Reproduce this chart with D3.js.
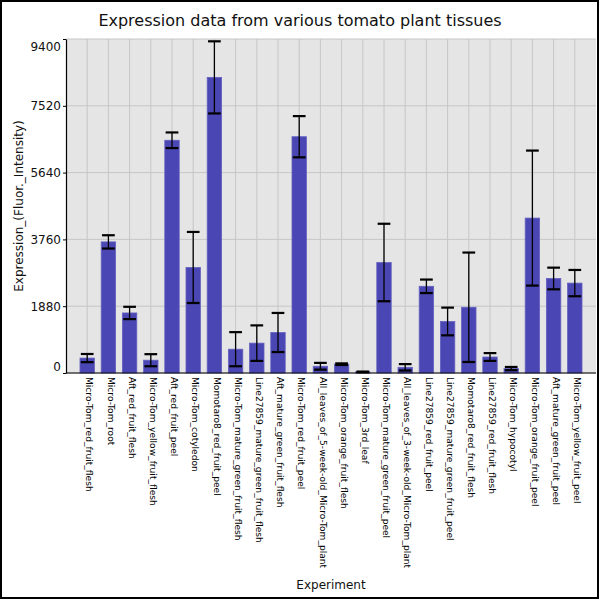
<!DOCTYPE html>
<html>
<head>
<meta charset="utf-8">
<script src="https://cdn.jsdelivr.net/npm/d3@7"></script>
<style>
  body { margin: 0; background: #fff; }
  svg { display: block; font-family: "DejaVu Sans", sans-serif; }
</style>
</head>
<body>
<svg id="chart" width="600" height="600"></svg>
<script>
const categories = [
  'Micro-Tom_red_fruit_flesh', 'Micro-Tom_root', 'Aft_red_fruit_flesh',
  'Micro-Tom_yellow_fruit_flesh', 'Aft_red_fruit_peel', 'Micro-Tom_cotyledon',
  'Momotaro8_red_fruit_peel', 'Micro-Tom_mature_green_fruit_flesh',
  'Line27859_mature_green_fruit_flesh', 'Aft_mature_green_fruit_flesh',
  'Micro-Tom_red_fruit_peel', 'All_leaves_of_5-week-old_Micro-Tom_plant',
  'Micro-Tom_orange_fruit_flesh', 'Micro-Tom_3rd_leaf',
  'Micro-Tom_mature_green_fruit_peel', 'All_leaves_of_3-week-old_Micro-Tom_plant',
  'Line27859_red_fruit_peel', 'Line27859_mature_green_fruit_peel',
  'Momotaro8_red_fruit_flesh', 'Line27859_red_fruit_flesh',
  'Micro-Tom_hypocotyl', 'Micro-Tom_orange_fruit_peel',
  'Aft_mature_green_fruit_peel', 'Micro-Tom_yellow_fruit_peel'
];
const means = [
  420, 3690, 1690, 360, 6550, 2970, 8320, 670, 840, 1140, 6650, 190,
  248, 30, 3110, 160, 2440, 1450, 1850, 450, 125, 4360, 2660, 2530
];
const errors = [
  115, 187, 173, 170, 220, 1000, 1015, 480, 500, 550, 580, 95,
  23, 10, 1090, 90, 190, 390, 1540, 110, 45, 1900, 305, 370
];
const yTicks = [0, 1880, 3760, 5640, 7520, 9400];

const title = 'Expression data from various tomato plant tissues';
const xTitle = 'Experiment';
const yTitle = 'Expression_(Fluor._Intensity)';

function drawChart() {
  const plotLeft = 66;
  const plotRight = 596;
  const plotTop = 39;
  const plotBottom = 373;

  const svg = d3.select('#chart');

  const x = d3.scalePoint()
    .domain(categories)
    .range([plotLeft, plotRight])
    .padding(1);
  const barWidth = x.step() * 0.68;
  const capWidth = x.step() * 0.6;

  const y = d3.scaleLinear()
    .domain([0, 9400])
    .range([plotBottom, plotTop]);

  // plot background
  svg.append('rect')
    .attr('x', plotLeft).attr('y', plotTop)
    .attr('width', plotRight - plotLeft).attr('height', plotBottom - plotTop)
    .attr('fill', '#e5e5e5');

  // grid
  svg.append('g')
    .selectAll('line.h')
    .data(yTicks)
    .join('line')
    .attr('x1', plotLeft).attr('x2', plotRight)
    .attr('y1', d => y(d)).attr('y2', d => y(d))
    .attr('stroke', '#c6c6c6').attr('stroke-width', 1);
  svg.append('g')
    .selectAll('line.v')
    .data(categories)
    .join('line')
    .attr('x1', d => x(d)).attr('x2', d => x(d))
    .attr('y1', plotTop).attr('y2', plotBottom)
    .attr('stroke', '#c6c6c6').attr('stroke-width', 1);

  // bars
  svg.append('g')
    .selectAll('rect')
    .data(means)
    .join('rect')
    .attr('x', (d, i) => x(categories[i]) - barWidth / 2)
    .attr('y', d => y(d))
    .attr('width', barWidth)
    .attr('height', d => plotBottom - y(d))
    .attr('fill', '#4a46b3')
    .attr('stroke', '#6461c0')
    .attr('stroke-width', 0.8);

  // error bars
  const err = svg.append('g')
    .selectAll('g')
    .data(means)
    .join('g')
    .attr('stroke', '#000');
  err.append('line')
    .attr('x1', (d, i) => x(categories[i])).attr('x2', (d, i) => x(categories[i]))
    .attr('y1', (d, i) => y(d + errors[i]))
    .attr('y2', (d, i) => y(Math.max(0, d - errors[i])))
    .attr('stroke-width', 1.3);
  err.selectAll('line.cap')
    .data((d, i) => [d + errors[i], Math.max(0, d - errors[i])].map(v => ({ v, i })))
    .join('line')
    .attr('class', 'cap')
    .attr('x1', d => x(categories[d.i]) - capWidth / 2)
    .attr('x2', d => x(categories[d.i]) + capWidth / 2)
    .attr('y1', d => y(d.v)).attr('y2', d => y(d.v))
    .attr('stroke-width', 2.2);

  // axes
  const yAxis = svg.append('g')
    .attr('transform', `translate(${plotLeft},0)`)
    .call(d3.axisLeft(y).tickValues(yTicks).tickFormat(d3.format('d'))
      .tickSize(3).tickPadding(2).tickSizeOuter(0));
  yAxis.select('.domain').attr('stroke', '#000').attr('stroke-width', 1.2);
  yAxis.selectAll('text')
    .attr('font-size', 12)
    .attr('font-family', 'DejaVu Sans')
    .attr('fill', '#111')
    .attr('dy', d => d === 0 ? '-0.25em' : d === 9400 ? '0.95em' : '0.32em');

  const xAxis = svg.append('g')
    .attr('transform', `translate(0,${plotBottom})`)
    .call(d3.axisBottom(x).tickSize(0).tickSizeOuter(0));
  xAxis.select('.domain')
    .attr('d', `M${plotLeft},0H${plotRight}`)
    .attr('stroke', '#000').attr('stroke-width', 1.2);
  xAxis.selectAll('text')
    .attr('font-size', 9.1)
    .attr('font-family', 'DejaVu Sans')
    .attr('fill', '#000')
    .attr('text-anchor', 'start')
    .attr('transform', 'rotate(90)')
    .attr('x', 4)
    .attr('y', 0)
    .attr('dy', '0.15em');

  // titles
  svg.append('text')
    .attr('x', 300).attr('y', 26)
    .attr('text-anchor', 'middle')
    .attr('font-size', 16)
    .attr('fill', '#111')
    .text(title);
  svg.append('text')
    .attr('x', (plotLeft + plotRight) / 2).attr('y', 589)
    .attr('text-anchor', 'middle')
    .attr('font-size', 12)
    .attr('fill', '#111')
    .text(xTitle);
  svg.append('text')
    .attr('transform', `translate(23,${(plotTop + plotBottom) / 2}) rotate(-90)`)
    .attr('text-anchor', 'middle')
    .attr('font-size', 12)
    .attr('fill', '#111')
    .text(yTitle);

  // outer border
  svg.append('rect')
    .attr('x', 1).attr('y', 1).attr('width', 597).attr('height', 597)
    .attr('fill', 'none').attr('stroke', '#000').attr('stroke-width', 2);
}

window.addEventListener('load', drawChart);
</script>
</body>
</html>
